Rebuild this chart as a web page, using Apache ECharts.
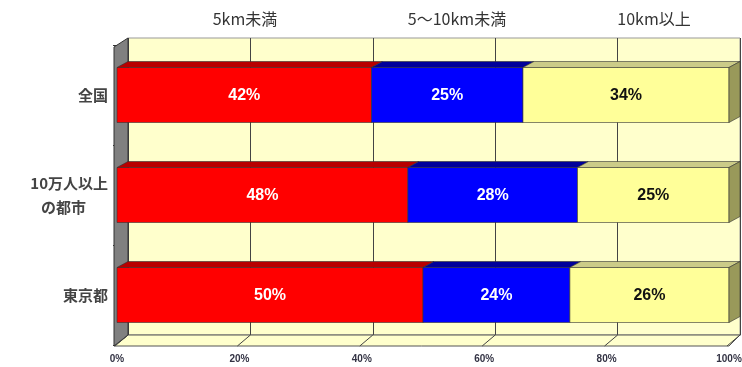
<!DOCTYPE html>
<html>
<head>
<meta charset="utf-8">
<script src="https://cdn.jsdelivr.net/npm/echarts@6/dist/echarts.min.js"></script>
<style>
  html, body { margin: 0; padding: 0; background: #fff; }
  #chart { width: 742px; height: 367px; }
</style>
</head>
<body>
<div id="chart"></div>
<script>
// 通勤距離の構成比（3D風の横棒グラフ）
const categories = ['全国', '10万人以上\nの都市', '東京都']
const seriesNames = ['5km未満', '5～10km未満', '10km以上']
const near = [42, 48, 50]
const mid = [25, 28, 24]
const far = [34, 25, 26]
const xTicks = [0, 20, 40, 60, 80, 100]

const FONT = '"Noto Sans CJK JP", "Noto Sans", sans-serif'
const DX = 11, DY = 6        // 棒の奥行き
const EDGE = '#333'
const faces = [
  { front: '#ff0000', top: '#b80000', label: '#fff' },
  { front: '#0000ff', top: '#00009a', label: '#fff' },
  { front: '#ffff99', top: '#cccc88', side: '#99995a', label: '#111' }
]

// 行ごとの合計で割って100%に揃える
function segData(k) {
  return categories.map((c, i) => {
    const vals = [near[i], mid[i], far[i]]
    const tot = vals.reduce((s, v) => s + v, 0)
    let start = 0
    for (let j = 0; j < k; j++) start += vals[j] / tot * 100
    return [start, start + vals[k] / tot * 100, i, vals[k]]
  })
}

function renderBar(k) {
  const col = faces[k]
  const last = k === faces.length - 1
  return function (params, api) {
    const cat = api.value(2)
    const a = api.coord([api.value(0), cat])
    const b = api.coord([api.value(1), cat])
    const h = api.size([0, 1])[1] * 0.55
    const top = a[1] - h / 2, bot = a[1] + h / 2
    const x0 = a[0], x1 = b[0]
    const children = [
      { type: 'polygon', shape: { points: [[x0, top], [x1, top], [x1 + DX, top - DY], [x0 + DX, top - DY]] },
        style: { fill: col.top, stroke: EDGE, lineWidth: 0.6 } },
      { type: 'rect', shape: { x: x0, y: top, width: x1 - x0, height: h },
        style: { fill: col.front, stroke: EDGE, lineWidth: 0.6 } }
    ]
    if (last) {
      children.push({ type: 'polygon', shape: { points: [[x1, top], [x1 + DX, top - DY], [x1 + DX, bot - DY], [x1, bot]] },
        style: { fill: col.side, stroke: EDGE, lineWidth: 0.6 } })
    }
    children.push({ type: 'text', x: (x0 + x1) / 2, y: a[1] + 1,
      style: { text: api.value(3) + '%', fill: col.label, font: 'bold 16px "Liberation Sans", sans-serif',
        align: 'center', verticalAlign: 'middle' } })
    return { type: 'group', children }
  }
}

// 床の目盛り線（手前から奥へ）
function renderFloor(params, api) {
  const cs = params.coordSys
  const p = api.coord([api.value(0), 0])
  const y = cs.y + cs.height + 1
  return { type: 'line', shape: { x1: p[0] - 2, y1: y, x2: p[0] + DX, y2: y - 11 },
    style: { stroke: '#444', lineWidth: 1 } }
}

// 凡例の中心位置に合わせて left を計算
const ctx = document.createElement('canvas').getContext('2d')
ctx.font = '16px ' + FONT
const legendCenters = [240, 452, 649]
const legends = seriesNames.map((n, i) => ({
  data: [n], top: 6, left: legendCenters[i] - ctx.measureText(n).width / 2 - 5,
  icon: 'rect', itemWidth: 0, itemHeight: 0, selectedMode: false,
  textStyle: { fontFamily: FONT, fontSize: 16, color: '#333' }
}))

const myChart = echarts.init(document.getElementById('chart'))
myChart.setOption({
  animation: false,
  legend: legends,
  graphic: [
    { type: 'polygon', z: 1, shape: { points: [[128, 335], [740, 335], [729, 346], [114, 346]] },
      style: { fill: '#ffffcc', stroke: '#555', lineWidth: 1 } },
    { type: 'polygon', z: 1, shape: { points: [[114, 47], [128, 38], [128, 335], [114, 346]] },
      style: { fill: '#808080', stroke: '#333', lineWidth: 1 } }
  ],
  grid: [
    { left: 128, right: 2, top: 38, bottom: 32, outerBoundsMode: 'none',
      show: true, backgroundColor: '#ffffcc', borderColor: '#999', borderWidth: 1 },
    { left: 117, right: 13, top: 45, bottom: 22, outerBoundsMode: 'none' }
  ],
  xAxis: [
    { gridIndex: 0, type: 'value', min: 0, max: 100, interval: 20,
      axisLabel: { show: false }, axisTick: { show: false },
      axisLine: { show: true, lineStyle: { color: '#555' } },
      splitLine: { show: true, lineStyle: { color: '#444', width: 1 } } },
    { gridIndex: 1, type: 'value', min: 0, max: 100, interval: 20,
      axisLine: { show: false }, axisTick: { show: false }, splitLine: { show: false },
      axisLabel: { formatter: '{value}%', margin: 9, fontSize: 10, fontWeight: 'bold',
        color: '#334', fontFamily: '"Liberation Sans", sans-serif' } }
  ],
  yAxis: [
    { gridIndex: 0, type: 'category', data: categories, show: false },
    { gridIndex: 1, type: 'category', data: categories, inverse: true,
      axisLine: { show: false },
      axisTick: { show: true, length: 4, lineStyle: { color: '#333' } },
      axisLabel: {
        margin: 9, align: 'right',
        formatter: v => v.split('\n').map((s, i) => (i === 0 ? '{a|' : '{b|') + s + '}').join('\n'),
        rich: {
          a: { fontFamily: FONT, fontSize: 15, fontWeight: 'bold', color: '#444', lineHeight: 24 },
          b: { fontFamily: FONT, fontSize: 15, fontWeight: 'bold', color: '#444', lineHeight: 24, padding: [0, 22, 0, 0] }
        }
      } }
  ],
  series: seriesNames.map((name, k) => ({
    name,
    type: 'custom',
    xAxisIndex: 1, yAxisIndex: 1,
    itemStyle: { color: faces[k].front },
    renderItem: renderBar(k),
    encode: { x: [0, 1], y: 2 },
    data: segData(k)
  })).concat([{
    type: 'custom', name: 'floor', xAxisIndex: 1, yAxisIndex: 1, z: 5,
    renderItem: renderFloor, encode: { x: 0 },
    data: xTicks.map(v => [v]), silent: true
  }])
})
</script>
</body>
</html>
